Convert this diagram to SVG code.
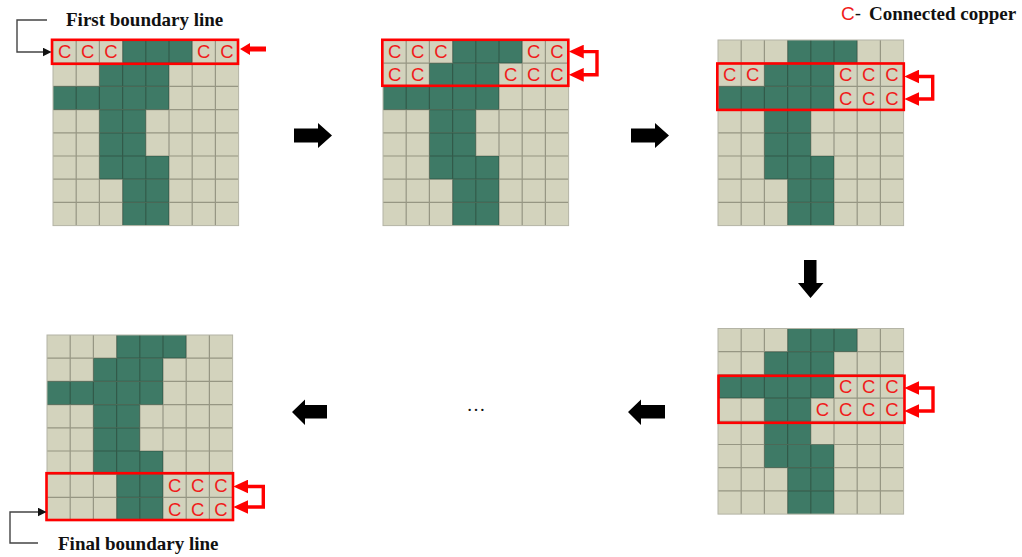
<svg xmlns="http://www.w3.org/2000/svg" xmlns:xlink="http://www.w3.org/1999/xlink" width="1022" height="557" viewBox="0 0 1022 557">
<style>
.lbl{font-family:"Liberation Serif","Times New Roman",serif;font-weight:bold;font-size:19px;fill:#111}
.c{font-family:"Liberation Sans",Arial,sans-serif;font-size:18.5px;fill:#f01c1c;text-anchor:middle}
.box{fill:none;stroke:#ff0000;stroke-width:2.6}
.rb{fill:none;stroke:#ff0000;stroke-width:3.4;marker-start:url(#rh);marker-end:url(#rh)}
.kb{fill:none;stroke:#444;stroke-width:1.4;marker-end:url(#kh)}
.blk{fill:#000}
</style>
<defs>
<marker id="rh" markerUnits="userSpaceOnUse" markerWidth="16" markerHeight="14" refX="4" refY="6.5" orient="auto-start-reverse" viewBox="0 0 15 13">
<path d="M0,0 L14,6.5 L0,13 z" fill="#ff0000"/>
</marker>
<marker id="kh" markerUnits="userSpaceOnUse" markerWidth="10" markerHeight="9" refX="3" refY="4" orient="auto" viewBox="0 0 9 8">
<path d="M0,0 L8,4 L0,8 z" fill="#111"/>
</marker>
<g id="grid">
<rect width="185.6" height="185.6" fill="#d3d3bd"/>
<g fill="#3e7a66">
<rect x="69.6" y="0" width="69.6" height="23.2"/>
<rect x="46.4" y="23.2" width="69.6" height="23.2"/>
<rect x="0" y="46.4" width="116" height="23.2"/>
<rect x="46.4" y="69.6" width="46.4" height="23.2"/>
<rect x="46.4" y="92.8" width="46.4" height="23.2"/>
<rect x="46.4" y="116" width="69.6" height="23.2"/>
<rect x="69.6" y="139.2" width="46.4" height="23.2"/>
<rect x="69.6" y="162.4" width="46.4" height="23.2"/>
</g>
<path d="M23.2 0V185.6M46.4 0V185.6M69.6 0V185.6M92.8 0V185.6M116 0V185.6M139.2 0V185.6M162.4 0V185.6M0 23.2H185.6M0 46.4H185.6M0 69.6H185.6M0 92.8H185.6M0 116H185.6M0 139.2H185.6M0 162.4H185.6" stroke="#1a1a10" stroke-opacity="0.33" stroke-width="1.2" fill="none"/>
<rect x="0" y="0" width="185.6" height="185.6" fill="none" stroke="#b4b4a6" stroke-width="1"/>
</g>
</defs>
<rect width="1022" height="557" fill="#fff"/>

<g id="legend">
<text x="841" y="20" style="font-family:'Liberation Sans',Arial,sans-serif;font-size:19px;fill:#f01c1c">C<tspan style="fill:#111">-</tspan></text>
<text class="lbl" x="869" y="20">Connected copper</text>
</g>

<g id="grid1">
<use xlink:href="#grid" x="53" y="40"/>
<rect class="box" x="52" y="39.8" width="186" height="24"/>
<text class="c" x="64.6 87.8 111 203.8 227" y="58.2">CCCCC</text>
</g>

<g id="grid2">
<use xlink:href="#grid" x="383" y="40"/>
<rect class="box" x="382.3" y="39.8" width="186" height="46"/>
<text class="c" x="394.6 417.8 441 533.8 557" y="58.2">CCCCC</text>
<text class="c" x="394.6 417.8 510.6 533.8 557" y="81.4">CCCCC</text>
</g>

<g id="grid3">
<use xlink:href="#grid" x="718" y="40"/>
<rect class="box" x="717.3" y="63.5" width="186.5" height="46.4"/>
<text class="c" x="729.6 752.8 845.6 868.8 892" y="81.4">CCCCC</text>
<text class="c" x="845.6 868.8 892" y="104.6">CCC</text>
</g>

<g id="grid4">
<use xlink:href="#grid" x="718" y="328.5"/>
<rect class="box" x="718.5" y="375.8" width="186" height="47"/>
<text class="c" x="845.6 868.8 892" y="393.1">CCC</text>
<text class="c" x="822.4 845.6 868.8 892" y="416.3">CCCC</text>
</g>

<g id="grid5">
<use xlink:href="#grid" x="47" y="335"/>
<rect class="box" x="46.5" y="473.2" width="186.5" height="46.8"/>
<text class="c" x="174.6 197.8 221" y="492.4">CCC</text>
<text class="c" x="174.6 197.8 221" y="515.6">CCC</text>
</g>

<g id="first-label">
<text class="lbl" x="66" y="25.5">First boundary line</text>
</g>
<g id="final-label">
<text class="lbl" x="58" y="550">Final boundary line</text>
</g>
<g id="ellipsis">
<text x="476" y="411" text-anchor="middle" style="font-family:'Liberation Serif',serif;font-size:19px;fill:#111">…</text>
</g>

<g id="connectors">
<path class="kb" d="M47 20H17V52H46"/>
<path class="kb" d="M38 543H10V512H41"/>
<polygon points="240,49 250,43 250,46.5 266,46.5 266,51.5 250,51.5 250,55" fill="#ff0000"/>
<path class="rb" d="M579.5 51.6H597V74.8H579.5"/>
<path class="rb" d="M915 76.5H932.7V99H915"/>
<path class="rb" d="M915 388H933V411H915"/>
<path class="rb" d="M244 486.5H263.3V507H244"/>
<polygon class="blk" points="294,128.5 318,128.5 318,123 332,135.5 318,148 318,142.5 294,142.5"/>
<polygon class="blk" points="631,128.5 655,128.5 655,123 669,135.5 655,148 655,142.5 631,142.5"/>
<polygon class="blk" points="292,412 305,399.5 305,405 327,405 327,418.5 305,418.5 305,425"/>
<polygon class="blk" points="628,412 641,399.5 641,405 665,405 665,418.5 641,418.5 641,425"/>
<polygon class="blk" points="804,260 816.5,260 816.5,283 823.5,283 810.5,298 798,283 804,283"/>
</g>
</svg>
